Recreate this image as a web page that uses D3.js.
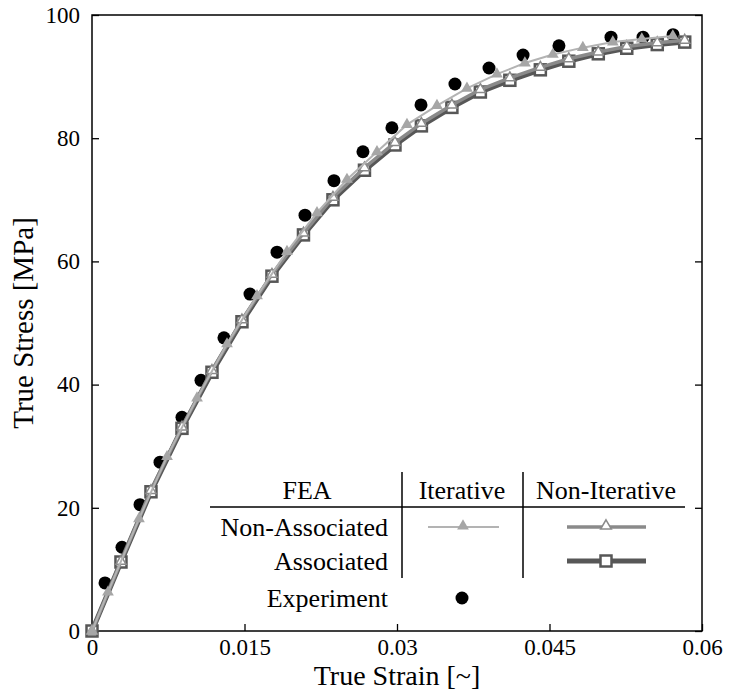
<!DOCTYPE html>
<html>
<head>
<meta charset="utf-8">
<script src="https://cdn.jsdelivr.net/npm/d3@7"></script>
<style>
  body { margin: 0; background: #fff; }
  svg text { font-family: "Liberation Serif", "Times New Roman", serif; fill: #000; }
</style>
</head>
<body>
<div id="chart"></div>
<script>
// Chart data
var xTicks = [0, 0.015, 0.03, 0.045, 0.06];
var xTickLabels = ["0", "0.015", "0.03", "0.045", "0.06"];
var yTicks = [0, 20, 40, 60, 80, 100];

// Experiment
var expStrain = [0.00128, 0.00295, 0.00472, 0.00669, 0.00885, 0.01072, 0.01298, 0.01554, 0.0182, 0.02095,
  0.0238, 0.02665, 0.0295, 0.03236, 0.0357, 0.03905, 0.0424, 0.04593, 0.05105, 0.0542, 0.05715];
var expStress = [7.8, 13.6, 20.5, 27.4, 34.7, 40.7, 47.6, 54.7, 61.5, 67.5,
  73.1, 77.8, 81.7, 85.4, 88.8, 91.4, 93.5, 95.0, 96.4, 96.4, 96.8];

// FEA, iterative, non-associated
var iterStrain = [0, 0.00157, 0.00462, 0.00738, 0.01033, 0.01328, 0.01623, 0.01918, 0.02213, 0.02508,
  0.02803, 0.03098, 0.03393, 0.03688, 0.03983, 0.04258, 0.04533, 0.04828, 0.05123, 0.05408, 0.05713];
var iterStress = [0, 6.3, 18.2, 28.3, 37.8, 46.6, 54.4, 61.6, 67.9, 73.3,
  77.8, 82.2, 85.3, 88.1, 90.4, 92.2, 93.6, 94.7, 95.6, 96.1, 96.6];

// FEA, non-iterative (associated and non-associated share strain steps)
var nonIterStrain = [0, 0.00285, 0.0058, 0.00885, 0.0118, 0.01475, 0.0177, 0.0208, 0.0237, 0.0268,
  0.0298, 0.0324, 0.0354, 0.0382, 0.0411, 0.0441, 0.0469, 0.0498, 0.0526, 0.0556, 0.0583];
var nonAssocStress = [0, 11.3, 22.8, 33.1, 42.3, 50.5, 57.9, 64.6, 70.4, 75.2,
  79.3, 82.4, 85.4, 87.9, 89.8, 91.5, 92.9, 94.0, 94.9, 95.5, 95.9];
var assocStress = [0, 11.2, 22.6, 32.9, 42.0, 50.2, 57.6, 64.3, 70.0, 74.8,
  78.9, 82.0, 85.0, 87.5, 89.4, 91.1, 92.5, 93.7, 94.6, 95.2, 95.6];

// SVG area and chart margins
var svgWidth = 732;
var svgHeight = 694;
var margin = { top: 15, right: 30, bottom: 63, left: 92 };
var chartWidth = svgWidth - margin.left - margin.right;
var chartHeight = svgHeight - margin.top - margin.bottom;

var serif = "Liberation Serif, Times New Roman, serif";
var colors = { light: "#b3b3b3", lightMark: "#a6a6a6", mid: "#8a8a8a", dark: "#575757" };

var svg = d3.select("#chart")
  .append("svg")
  .attr("width", svgWidth)
  .attr("height", svgHeight)
  .attr("font-family", serif);

var chartGroup = svg.append("g")
  .attr("transform", `translate(${margin.left}, ${margin.top})`);

var xScale = d3.scaleLinear().domain([0, 0.06]).range([0, chartWidth]);
var yScale = d3.scaleLinear().domain([0, 100]).range([chartHeight, 0]);

// axes with inward ticks
var bottomAxis = d3.axisBottom(xScale).tickValues(xTicks)
  .tickFormat((d, i) => xTickLabels[i]).tickSizeInner(-7).tickSizeOuter(0).tickPadding(8);
var leftAxis = d3.axisLeft(yScale).tickValues(yTicks)
  .tickFormat(d3.format("d")).tickSizeInner(-7).tickSizeOuter(0).tickPadding(12);
var rightAxis = d3.axisRight(yScale).tickValues(yTicks)
  .tickFormat("").tickSizeInner(-7).tickSizeOuter(0);

chartGroup.append("g").attr("transform", `translate(0, ${chartHeight})`).call(bottomAxis);
chartGroup.append("g").call(leftAxis);
chartGroup.append("g").attr("transform", `translate(${chartWidth}, 0)`).call(rightAxis);

chartGroup.selectAll("g").attr("font-family", serif);
chartGroup.selectAll(".tick line").attr("stroke", "#000").attr("stroke-width", 1.3);
chartGroup.selectAll(".domain").remove();
chartGroup.selectAll(".tick text").attr("font-size", 23).attr("font-family", serif);

// frame
chartGroup.append("rect")
  .attr("width", chartWidth).attr("height", chartHeight)
  .attr("fill", "none").attr("stroke", "#000").attr("stroke-width", 1.5);

// axis titles
svg.append("text")
  .attr("x", margin.left + chartWidth / 2).attr("y", 685)
  .attr("text-anchor", "middle").attr("font-size", 28)
  .text("True Strain [~]");
svg.append("text")
  .attr("transform", `translate(33, ${margin.top + chartHeight / 2}) rotate(-90)`)
  .attr("text-anchor", "middle").attr("font-size", 29)
  .text("True Stress [MPa]");

// experiment points (drawn first, behind the curves)
chartGroup.selectAll(".exp")
  .data(expStrain.map((s, i) => [s, expStress[i]]))
  .enter().append("circle")
  .attr("cx", d => xScale(d[0])).attr("cy", d => yScale(d[1]))
  .attr("r", 6.5).attr("fill", "#000");

var drawLine = d3.line().x(d => xScale(d[0])).y(d => yScale(d[1]));
var triangle = d3.symbol().type(d3.symbolTriangle);

// associated, non-iterative
var assocData = nonIterStrain.map((s, i) => [s, assocStress[i]]);
chartGroup.append("path").datum(assocData)
  .attr("d", drawLine).attr("fill", "none")
  .attr("stroke", colors.dark).attr("stroke-width", 5);
chartGroup.selectAll(".sq")
  .data(assocData).enter().append("rect")
  .attr("x", d => xScale(d[0]) - 5.5).attr("y", d => yScale(d[1]) - 5.5)
  .attr("width", 11).attr("height", 11)
  .attr("fill", "#fff").attr("stroke", colors.dark).attr("stroke-width", 2.5);

// non-associated, non-iterative
var nonAssocData = nonIterStrain.map((s, i) => [s, nonAssocStress[i]]);
chartGroup.append("path").datum(nonAssocData)
  .attr("d", drawLine).attr("fill", "none")
  .attr("stroke", colors.mid).attr("stroke-width", 3.5);
chartGroup.selectAll(".otri")
  .data(nonAssocData).enter().append("path")
  .attr("d", triangle.size(45)())
  .attr("transform", d => `translate(${xScale(d[0])}, ${yScale(d[1])})`)
  .attr("fill", "#fff").attr("stroke", colors.mid).attr("stroke-width", 1.5);

// non-associated, iterative
var iterData = iterStrain.map((s, i) => [s, iterStress[i]]);
chartGroup.append("path").datum(iterData)
  .attr("d", drawLine).attr("fill", "none")
  .attr("stroke", colors.light).attr("stroke-width", 2);
chartGroup.selectAll(".ftri")
  .data(iterData).enter().append("path")
  .attr("d", triangle.size(60)())
  .attr("transform", d => `translate(${xScale(d[0])}, ${yScale(d[1])})`)
  .attr("fill", colors.lightMark);

// legend table
var legend = svg.append("g").attr("font-size", 26).attr("font-family", serif);
legend.append("line").attr("x1", 210).attr("x2", 685).attr("y1", 507).attr("y2", 507)
  .attr("stroke", "#000").attr("stroke-width", 1.5);
[402, 523].forEach(function(x) {
  legend.append("line").attr("x1", x).attr("x2", x).attr("y1", 472).attr("y2", 578)
    .attr("stroke", "#000").attr("stroke-width", 1.5);
});
var cells = [
  ["FEA", 307, 499, "middle"],
  ["Iterative", 462, 499, "middle"],
  ["Non-Iterative", 606, 499, "middle"],
  ["Non-Associated", 388, 536, "end"],
  ["Associated", 388, 570, "end"],
  ["Experiment", 388, 607, "end"]
];
cells.forEach(function(c) {
  legend.append("text").attr("x", c[1]).attr("y", c[2])
    .attr("text-anchor", c[3]).attr("font-size", 26).attr("font-family", serif).text(c[0]);
});

legend.append("line").attr("x1", 428).attr("x2", 499).attr("y1", 527).attr("y2", 527)
  .attr("stroke", colors.light).attr("stroke-width", 2);
legend.append("path").attr("d", triangle.size(60)())
  .attr("transform", "translate(463, 526)").attr("fill", colors.lightMark);

legend.append("line").attr("x1", 567).attr("x2", 646).attr("y1", 527).attr("y2", 527)
  .attr("stroke", colors.mid).attr("stroke-width", 3.5);
legend.append("path").attr("d", triangle.size(50)())
  .attr("transform", "translate(606, 526)")
  .attr("fill", "#fff").attr("stroke", colors.mid).attr("stroke-width", 1.5);

legend.append("line").attr("x1", 567).attr("x2", 646).attr("y1", 561).attr("y2", 561)
  .attr("stroke", colors.dark).attr("stroke-width", 5);
legend.append("rect").attr("x", 600.5).attr("y", 555.5).attr("width", 11).attr("height", 11)
  .attr("fill", "#fff").attr("stroke", colors.dark).attr("stroke-width", 2.5);

legend.append("circle").attr("cx", 462).attr("cy", 598).attr("r", 6.5).attr("fill", "#000");
</script>
</body>
</html>
